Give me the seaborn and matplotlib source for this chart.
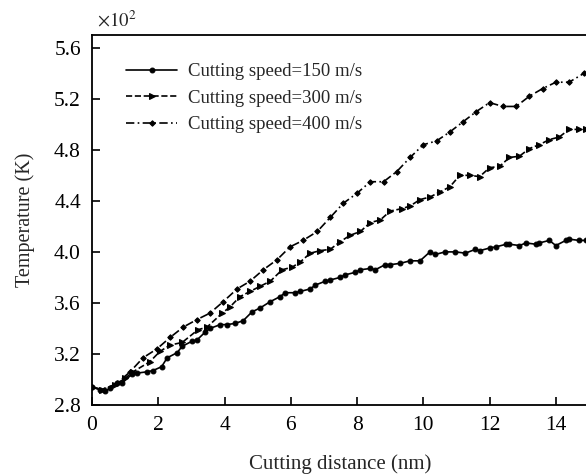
import numpy as np
import pandas as pd
import matplotlib
matplotlib.use('Agg')
import matplotlib.pyplot as plt
import seaborn as sns

# --- data (temperature in units of 10^2 K) ---
x_150 = [0.0, 0.24, 0.39, 0.54, 0.75, 0.9, 1.2, 1.36, 1.66, 1.84, 2.1, 2.27, 2.57, 2.72,
         3.02, 3.17, 3.41, 3.56, 3.87, 4.08, 4.32, 4.56, 4.83, 5.07, 5.38, 5.68, 5.83,
         6.13, 6.28, 6.59, 6.74, 7.04, 7.19, 7.49, 7.64, 7.95, 8.1, 8.4, 8.55, 8.85,
         9.0, 9.3, 9.6, 9.9, 10.2, 10.36, 10.66, 10.97, 11.27, 11.57, 11.7, 12.0, 12.2,
         12.5, 12.6, 12.9, 13.1, 13.4, 13.5, 13.8, 14.0, 14.3, 14.4, 14.7, 14.9]
t_150 = [2.94, 2.92, 2.91, 2.93, 2.97, 2.97, 3.04, 3.05, 3.06, 3.07, 3.10, 3.17, 3.21, 3.26,
         3.30, 3.31, 3.37, 3.40, 3.43, 3.43, 3.44, 3.46, 3.53, 3.56, 3.61, 3.65, 3.68,
         3.68, 3.69, 3.71, 3.74, 3.77, 3.78, 3.80, 3.82, 3.84, 3.86, 3.87, 3.86, 3.90,
         3.90, 3.91, 3.93, 3.93, 4.00, 3.98, 4.00, 4.00, 3.99, 4.02, 4.01, 4.03, 4.04,
         4.06, 4.06, 4.05, 4.07, 4.06, 4.07, 4.09, 4.05, 4.09, 4.10, 4.09, 4.09]

x_300 = [0.0, 0.3, 0.7, 1.0, 1.24, 1.75, 2.05, 2.36, 2.72, 3.2, 3.47, 3.93, 4.17, 4.47,
         4.77, 5.07, 5.38, 5.74, 6.04, 6.28, 6.59, 6.89, 7.19, 7.49, 7.79, 8.1, 8.4,
         8.7, 9.0, 9.37, 9.6, 9.9, 10.2, 10.5, 10.8, 11.1, 11.4, 11.7, 12.0, 12.3,
         12.6, 12.9, 13.2, 13.5, 13.8, 14.1, 14.4, 14.7, 14.9]
t_300 = [2.94, 2.92, 2.96, 3.01, 3.06, 3.14, 3.22, 3.27, 3.29, 3.39, 3.41, 3.52, 3.57, 3.65,
         3.69, 3.73, 3.77, 3.86, 3.88, 3.92, 3.99, 4.01, 4.02, 4.08, 4.13, 4.16, 4.23,
         4.25, 4.32, 4.34, 4.36, 4.41, 4.43, 4.47, 4.51, 4.60, 4.60, 4.59, 4.66, 4.67,
         4.74, 4.75, 4.81, 4.84, 4.88, 4.90, 4.96, 4.96, 4.96]

x_400 = [0.0, 0.35, 0.75, 1.15, 1.54, 1.96, 2.36, 2.75, 3.17, 3.56, 3.96, 4.38, 4.77, 5.17,
         5.59, 5.98, 6.37, 6.8, 7.19, 7.58, 8.0, 8.4, 8.8, 9.2, 9.6, 10.0, 10.4, 10.8,
         11.2, 11.6, 12.0, 12.4, 12.8, 13.2, 13.6, 14.0, 14.4, 14.85]
t_400 = [2.94, 2.92, 2.97, 3.06, 3.17, 3.24, 3.33, 3.41, 3.47, 3.52, 3.61, 3.71, 3.77, 3.86,
         3.94, 4.04, 4.09, 4.16, 4.27, 4.38, 4.46, 4.55, 4.55, 4.63, 4.74, 4.84, 4.87, 4.94,
         5.02, 5.10, 5.17, 5.14, 5.14, 5.22, 5.28, 5.33, 5.33, 5.40]

labels = ['Cutting speed=150 m/s', 'Cutting speed=300 m/s', 'Cutting speed=400 m/s']
xticks = [0, 2, 4, 6, 8, 10, 12, 14]
yticks = [2.8, 3.2, 3.6, 4.0, 4.4, 4.8, 5.2, 5.6]

sns.set_style('ticks')
plt.rcParams['font.family'] = ['Liberation Serif', 'DejaVu Serif']
plt.rcParams['mathtext.fontset'] = 'stix'

fig = plt.figure(figsize=(5.86, 4.74), dpi=100)
ax = fig.add_axes([92 / 586, 1 - 405 / 474, (589 - 92) / 586, (405 - 35) / 474])

series = [(x_150, t_150, '-', 'o', 3.5),
          (x_300, t_300, '--', '>', 4),
          (x_400, t_400, (0, (5, 2, 1, 2)), 'D', 2.8)]
for (xs, ts, ls, mk, ms), lab in zip(series, labels):
    df = pd.DataFrame({'x': xs, 't': ts})
    sns.lineplot(data=df, x='x', y='t', ax=ax, color='black', linestyle=ls,
                 marker=mk, markersize=ms, markeredgecolor='black', linewidth=1.2,
                 label=lab, sort=False)

ax.set_xlim(0, 15)
ax.set_ylim(2.8, 5.7)
ax.set_xticks(xticks)
ax.set_yticks(yticks)
ax.set_yticklabels([f'{v:.1f}' for v in yticks])
ax.tick_params(direction='in', length=6, width=1.2, labelsize=15.5, colors='black', pad=8)
for s in ax.spines.values():
    s.set_linewidth(1.3)
    s.set_color('black')

ax.set_xlabel('Cutting distance (nm)', fontsize=15, labelpad=14)
ax.set_ylabel('Temperature (K)', fontsize=14.5, labelpad=14)
ax.text(0.01, 1.012, r'$\times 10^2$', transform=ax.transAxes, fontsize=13.5,
        ha='left', va='bottom')

leg = ax.legend(loc='upper left', bbox_to_anchor=(0.035, 0.97), frameon=False,
                fontsize=13.5, handlelength=2.7, handletextpad=0.6, labelspacing=0.5)

fig.savefig('out.png', dpi=100)
